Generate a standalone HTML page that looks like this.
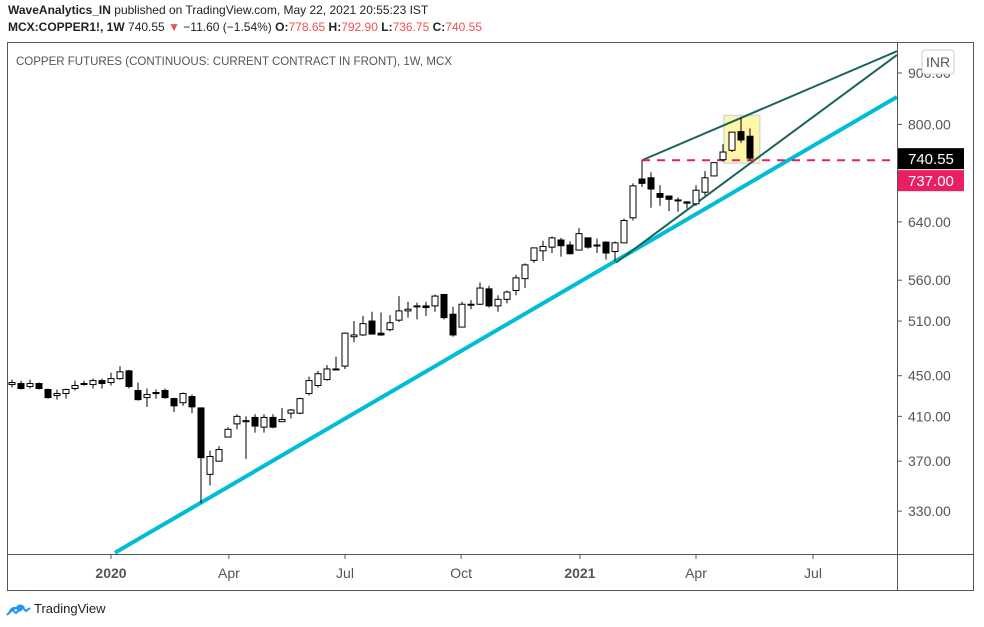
<!DOCTYPE html>
<html><head><meta charset="utf-8">
<style>
body{margin:0;background:#fff;width:984px;height:627px;overflow:hidden;font-family:"Liberation Sans",sans-serif;}
svg{position:absolute;left:0;top:0}
</style></head>
<body>
<svg id="chart" width="984" height="627" xmlns="http://www.w3.org/2000/svg">
<text x="8" y="14" font-size="12" fill="#222"><tspan font-weight="bold">WaveAnalytics_IN</tspan> published on TradingView.com, May 22, 2021 20:55:23 IST</text>
<text x="8" y="31" font-size="12" fill="#222"><tspan font-weight="bold">MCX:COPPER1!, 1W</tspan>  740.55 <tspan fill="#ef5350">▼</tspan> −11.60 (−1.54%) <tspan font-weight="bold">O:</tspan><tspan fill="#ef5350">778.65</tspan> <tspan font-weight="bold">H:</tspan><tspan fill="#ef5350">792.90</tspan> <tspan font-weight="bold">L:</tspan><tspan fill="#ef5350">736.75</tspan> <tspan font-weight="bold">C:</tspan><tspan fill="#ef5350">740.55</tspan></text>
<rect x="7.5" y="42.5" width="966" height="548" fill="none" stroke="#555" stroke-width="1"/>
<line x1="7.5" y1="554.5" x2="973" y2="554.5" stroke="#555"/>
<line x1="897.5" y1="42" x2="897.5" y2="590" stroke="#555"/>
<text x="16" y="65" font-size="11.5" fill="#555">COPPER FUTURES (CONTINUOUS: CURRENT CONTRACT IN FRONT), 1W, MCX</text>
<g id="grid"></g>
<g id="lines"></g>
<g id="candles"></g>
<g id="axes"></g>
<g>
<path d="M8 614 q2-8 8-7 q4-5 9 0 l-5 5 -4-3 z" fill="#2196f3"/>
<path d="M7 615 l5-5 4 3 6-6 4 4 4-3" stroke="#2196f3" stroke-width="2" fill="none"/>
<text x="34" y="613" font-size="13" fill="#222">TradingView</text>
</g>
</svg>
<script>
const opens =[441,442,439,442,436,430,432,437,442,441,445,443,447,455,435,428,433,435,427,423,429,418,359,370,391,403,405,409,400,409,405,413,413,432,440,446,456,460,492,494,510,496,500,511,522,527,528,528,542,518,503,530,530,549,528,536,547,562,586,599,604,614,607,600,617,606,611,598,610,646,706,708,683,679,672,670,667,685,711,738,754,787,778.65];
const highs =[446,445,446,443,437,436,437,445,445,447,447,453,460,456,443,437,436,437,428,433,431,418,379,383,400,412,410,412,412,412,418,417,428,449,455,461,470,497,510,516,521,520,517,540,533,532,533,542,542,527,533,535,557,553,541,547,567,582,603,613,619,617,612,631,617,616,612,612,645,699,737,717,696,679,677,671,696,719,733,765,786,813,792.9];
const lows  =[438,436,437,436,427,426,427,435,440,437,437,440,446,437,425,419,427,427,414,420,413,336,350,370,391,398,372,395,395,399,405,408,412,430,438,445,456,457,486,493,495,493,498,509,514,512,516,521,512,492,503,524,529,526,521,531,541,550,583,585,596,591,594,600,602,596,587,585,610,642,693,661,664,656,655,660,664,680,711,735,751,767,736.75];
const closes=[443,437,442,437,428,432,436,440,441,445,442,447,454,439,426,431,432,428,420,432,419,373,374,380,398,410,406,401,409,400,407,416,427,445,452,457,457,496,494,507,495,494,508,522,524,528,526,540,514,494,530,530,550,528,536,545,563,580,603,605,617,606,595,623,604,607,596,610,642,695,699,690,677,674,673,668,688,708,733,751,786,772,740.55];
const priceTicks=[330,370,410,450,510,560,640,800,900];
const timeLabels=["2020","Apr","Jul","Oct","2021","Apr","Jul"];
const timeIdx=[11,24.1,37,49.9,63.1,76,89];
const lastPrice=[740.55];
const levelPrice=[737];
const cyanLine=[11.44,300,98.33,852];
const upperLine=[70,737,98.33,946];
const lowerLine=[67.1,583,98.33,938];
const boxRange=[79.1,83.1,817,732];

const NS="http://www.w3.org/2000/svg";
function X(i){return 12+9*i;}
function Y(p){return 73+(Math.log(900)-Math.log(p))*436.7;}
function mk(parent,tag,attrs){const e=document.createElementNS(NS,tag);for(const k in attrs)e.setAttribute(k,attrs[k]);document.getElementById(parent).appendChild(e);return e;}

// highlight box
let bx=mk('lines','rect',{x:X(boxRange[0]),y:Y(boxRange[2]),width:X(boxRange[1])-X(boxRange[0]),height:Y(boxRange[3])-Y(boxRange[2]),fill:'#fff59d',stroke:'#b3d4f0','fill-opacity':0.9});


// trend lines
function seg(a,color,w,name){
  const l=mk('lines','line',{x1:X(a[0]),y1:Y(a[1]),x2:X(a[2]),y2:Y(a[3]),stroke:color,'stroke-width':w,'clip-path':'url(#clip)'});
  
  
}
const defs=document.createElementNS(NS,'defs');defs.innerHTML='<clipPath id="clip"><rect x="8" y="43" width="889" height="511"/></clipPath>';document.getElementById('chart').appendChild(defs);
seg(cyanLine,'#00bcd4',4,'support-trendline');
seg(upperLine,'#17645f',2,'upper-wedge-line');
seg(lowerLine,'#17645f',2,'lower-wedge-line');
let dl=mk('lines','line',{x1:X(70),y1:Y(levelPrice[0]),x2:897,y2:Y(levelPrice[0]),stroke:'#e91e63','stroke-width':2,'stroke-dasharray':'8,7'});



// candles
for(let i=0;i<opens.length;i++){
  const o=opens[i],c=closes[i],h=highs[i],l=lows[i];
  const g=document.createElementNS(NS,'g');
  
  
  document.getElementById('candles').appendChild(g);
  const x=X(i);
  const w=document.createElementNS(NS,'line');
  w.setAttribute('x1',x);w.setAttribute('x2',x);w.setAttribute('y1',Y(h));w.setAttribute('y2',Y(l));w.setAttribute('stroke','#000');w.setAttribute('stroke-width',1);
  g.appendChild(w);
  const top=Y(Math.max(o,c)),bot=Y(Math.min(o,c));
  const r=document.createElementNS(NS,'rect');
  r.setAttribute('x',x-3);r.setAttribute('y',top);r.setAttribute('width',6);r.setAttribute('height',Math.max(1,bot-top));
  r.setAttribute('fill',c>=o?'#fff':'#000');r.setAttribute('stroke','#000');r.setAttribute('stroke-width',1);
  g.appendChild(r);
}
// price axis
priceTicks.forEach(p=>{
  const y=Y(p);
  mk('axes','line',{x1:897,y1:y,x2:902,y2:y,stroke:'#555'});
  const t=mk('axes','text',{x:908,y:y+5,'font-size':14,fill:'#555'});
  t.textContent=p.toFixed(2);
  
  
});
// time axis
timeLabels.forEach((s,k)=>{
  const x=X(timeIdx[k]);
  mk('axes','line',{x1:x,y1:554,x2:x,y2:559,stroke:'#555'});
  const bold=/^\d/.test(s);
  const t=mk('axes','text',{x:x,y:578,'font-size':14,fill:'#555','text-anchor':'middle','font-weight':bold?'bold':'normal'});
  t.textContent=s;
  
  
});
// INR + last price labels
let inr=mk('axes','rect',{x:922,y:50,width:32,height:24,rx:3,fill:'#fff',stroke:'#ccc'});


let it=mk('axes','text',{x:938,y:67,'font-size':14,fill:'#555','text-anchor':'middle'});it.textContent='INR';
let lb=mk('axes','rect',{x:898,y:Y(lastPrice[0])-10,width:66,height:21,fill:'#000'});


let lt=mk('axes','text',{x:908,y:Y(lastPrice[0])+6,'font-size':15,fill:'#fff'});lt.textContent=lastPrice[0].toFixed(2);
let rb=mk('axes','rect',{x:898,y:Y(lastPrice[0])+12,width:66,height:21,fill:'#e91e63'});


let rt=mk('axes','text',{x:908,y:Y(lastPrice[0])+28,'font-size':15,fill:'#fff'});rt.textContent=levelPrice[0].toFixed(2);
</script>
</body></html>
